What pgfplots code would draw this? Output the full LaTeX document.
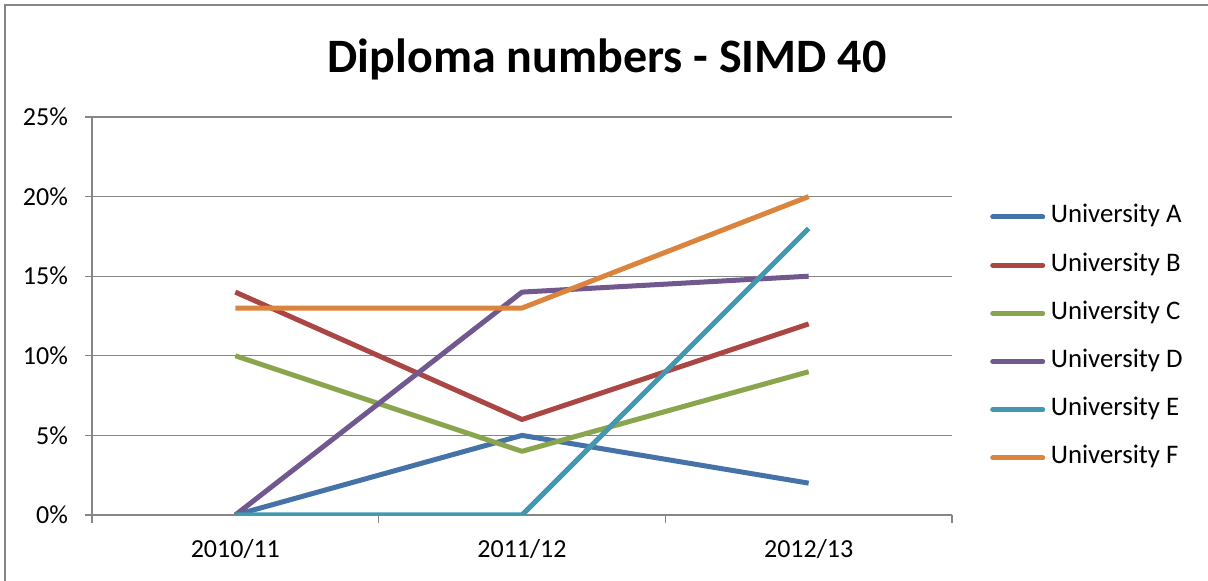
\documentclass[border=0pt]{standalone}
\usepackage{pgfplots}
\pgfplotsset{compat=1.18}
\usepackage{fontspec}
\setmainfont{Carlito}

\definecolor{uniA}{HTML}{4572A7}
\definecolor{uniB}{HTML}{AA4643}
\definecolor{uniC}{HTML}{89A54E}
\definecolor{uniD}{HTML}{71588F}
\definecolor{uniE}{HTML}{4198AF}
\definecolor{uniF}{HTML}{DB843D}
\definecolor{gridgray}{HTML}{868686}

\begin{document}
\begin{tikzpicture}
\useasboundingbox (0,0) rectangle (604pt,290.5pt);
\draw[gridgray, line width=0.7pt] (2.5pt,0) -- (2.5pt,288pt) -- (604pt,288pt);
\node[font=\fontsize{24}{28}\selectfont\bfseries] at (303.5pt,261pt) {Diploma numbers - SIMD 40};
\begin{axis}[
    at={(46pt,33pt)}, anchor=south west,
    width=430pt, height=199pt, scale only axis,
    xmin=0.5, xmax=3.5,
    ymin=0, ymax=25,
    xtick={1,2,3},
    xticklabels={2010/11,2011/12,2012/13},
    minor xtick={0.5,1.5,2.5,3.5},
    ytick={0,5,10,15,20,25},
    yticklabel={\pgfmathprintnumber{\tick}\%},
    axis lines=left,
    axis line style={-, gridgray, line width=0.6pt},
    tick style={gridgray, line width=0.6pt},
    major tick length=3.5pt,
    minor tick length=4pt,
    major x tick style={draw=none},
    tick align=outside,
    ymajorgrids=true,
    grid style={gridgray, line width=0.6pt},
    /pgf/number format/assume math mode=true,
    tick label style={font=\fontsize{13}{15}\selectfont},
    yticklabel style={xshift=-5pt},
    xticklabel style={yshift=-5pt},
    legend style={
        at={(1.037,0.79)}, anchor=north west,
        draw=none, fill=none,
        font=\fontsize{13.4}{15}\selectfont,
        row sep=12.1pt,
        nodes={inner sep=0pt, text height=9pt, text depth=3pt},
    },
    legend cell align=left,
    legend image code/.code={\draw[#1, line cap=round] (1.25pt,0pt) -- (26.25pt,0pt);},
    every axis plot/.append style={line width=2.5pt, line join=round, mark=none},
]
\addplot[uniA] coordinates {(1,0) (2,5) (3,2)};
\addlegendentry{\hspace{2.8pt}University A}
\addplot[uniB] coordinates {(1,14) (2,6) (3,12)};
\addlegendentry{\hspace{2.8pt}University B}
\addplot[uniC] coordinates {(1,10) (2,4) (3,9)};
\addlegendentry{\hspace{2.8pt}University C}
\addplot[uniD] coordinates {(1,0) (2,14) (3,15)};
\addlegendentry{\hspace{2.8pt}University D}
\addplot[uniE] coordinates {(1,0) (2,0) (3,18)};
\addlegendentry{\hspace{2.8pt}University E}
\addplot[uniF] coordinates {(1,13) (2,13) (3,20)};
\addlegendentry{\hspace{2.8pt}University F}
\end{axis}
\end{tikzpicture}
\end{document}
